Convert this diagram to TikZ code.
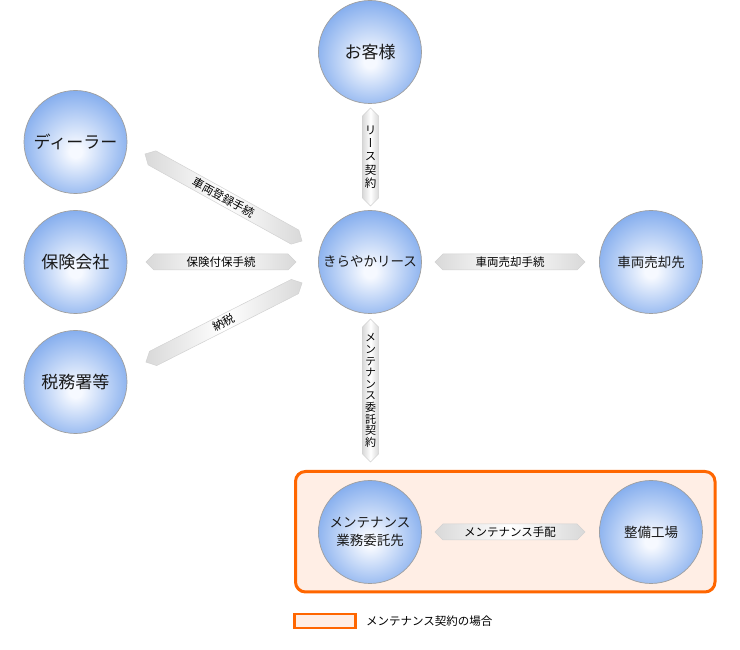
\documentclass[tikz,border=0pt]{standalone}
\usepackage{fontspec}
\setmainfont{Noto Sans CJK JP}
\newfontfamily\jpv{Noto Sans CJK JP}[RawFeature=+vert]
\usetikzlibrary{shapes.arrows}
\definecolor{cin}{RGB}{246,249,255}
\definecolor{cout}{RGB}{135,175,238}
\definecolor{orangeline}{RGB}{255,102,0}
\definecolor{orangefill}{RGB}{255,238,229}
\pgfdeclareradialshading{ballsh}{\pgfpoint{0bp}{-5bp}}{color(0bp)=(cin);color(3bp)=(cin);color(27bp)=(cout);color(50bp)=(cout)}
\tikzset{
  ball/.style={circle, draw=gray!75, line width=0.7pt, shading=ballsh,
    minimum size=103pt, inner sep=0pt, align=center, text=black!90},
  bigtxt/.style={font=\fontsize{17}{20}\selectfont},
  smalltxt/.style={font=\fontsize{13.5}{18}\selectfont},
  band/.style={double arrow, double arrow head extend=0pt, double arrow tip angle=90,
    minimum width=16pt, inner sep=0pt, draw=gray!35, line width=0.5pt,
    left color=gray!30, right color=gray!30, middle color=white,
    font=\fontsize{11.5}{13}\selectfont, text=black},
  vtxt/.style={align=center, inner sep=0pt, text=black},
  groupbox/.style={draw=orangeline, fill=orangefill, line width=3pt, rounded corners=10pt},
  legendbox/.style={draw=orangeline, fill=orangefill, line width=2.5pt},
}
\begin{document}
\begin{tikzpicture}[x=1pt,y=1pt]
\useasboundingbox (0,0) rectangle (740,650);
% group box
\draw[groupbox] (295.5,178.5) rectangle (715,58);
% circles
\node[ball, bigtxt] (okyaku) at (370,598) {お客様};
\node[ball, bigtxt] (dealer) at (75.5,508) {ディーラー};
\node[ball, bigtxt] (hoken) at (75.5,388) {保険会社};
\node[ball, bigtxt] (zeimu) at (75.5,268) {税務署等};
\node[ball, smalltxt] (kiraya) at (370,388) {きらやかリース};
\node[ball, smalltxt] (baikyaku) at (651,388) {車両売却先};
\node[ball, smalltxt] (itaku) at (370,118) {メンテナンス\\業務委託先};
\node[ball, smalltxt] (seibi) at (651,118) {整備工場};
% bands
\node[band, rotate=90, minimum height=98pt] (leaseband) at (370.5,493) {};
\node[vtxt, font=\jpv\fontsize{11.5}{13.2}\selectfont] (leasetxt) at (leaseband) {リ\\ー\\ス\\契\\約};
\node[band, rotate=90, minimum height=143pt] (mcband) at (370.5,259.5) {};
\node[vtxt, font=\jpv\fontsize{11}{11.6}\selectfont] (mctxt) at (mcband) {メ\\ン\\テ\\ナ\\ン\\ス\\委\\託\\契\\約};
\node[band, minimum height=150pt] (baiband) at (510,388) {車両売却手続};
\node[band, minimum height=150pt] (hokenband) at (221,388) {保険付保手続};
\node[band, minimum height=150pt] (tehaiband) at (510,118) {メンテナンス手配};
\node[band, rotate=-29, minimum height=179.5pt] (tourokuband) at (223.5,452.5) {車両登録手続};
\node[band, rotate=26.9, minimum height=175pt] (nouzeiband) at (224,327.5) {納税};
% legend
\draw[legendbox] (294.5,36) rectangle (355.5,22);
\node[anchor=west, inner sep=0pt, font=\fontsize{11.5}{13}\selectfont, text=black] (legendtxt) at (366,29) {メンテナンス契約の場合};
\end{tikzpicture}
\end{document}
